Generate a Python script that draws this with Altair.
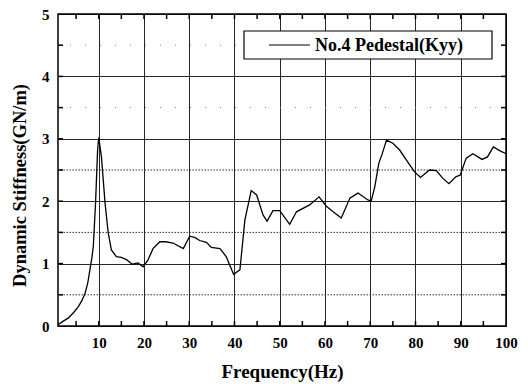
import altair as alt
import pandas as pd

# ---- data ----
freq = [1.0, 2.0, 3.3, 4.5, 5.5, 6.3, 7.0, 7.6, 8.05, 8.5, 8.8, 9.3, 9.75, 10.0,
        10.6, 11.4, 12.1, 12.8, 13.9, 15.0, 16.2, 17.4, 18.7, 19.8, 20.9, 22.0,
        23.5, 24.8, 26.4, 28.7, 30.1, 31.2, 32.3, 33.8, 34.9, 36.8, 38.2, 39.1,
        39.8, 41.2, 42.3, 43.7, 44.9, 46.3, 47.2, 48.5, 50.0, 52.2, 53.7, 56.6,
        58.7, 60.3, 61.8, 63.6, 65.5, 67.3, 69.5, 70.2, 71.0, 71.9, 72.6, 73.6,
        75.0, 76.5, 78.0, 79.8, 81.1, 83.1, 84.6, 86.0, 87.4, 88.9, 89.9, 91.2,
        92.7, 94.7, 95.9, 97.2, 98.6, 100.0]
stiff = [0.02, 0.07, 0.13, 0.22, 0.31, 0.41, 0.53, 0.70, 0.90, 1.10, 1.27, 1.97, 2.82, 3.02,
         2.71, 1.97, 1.49, 1.22, 1.11, 1.10, 1.06, 0.99, 1.01, 0.95, 1.06, 1.24,
         1.35, 1.35, 1.33, 1.24, 1.44, 1.42, 1.37, 1.34, 1.26, 1.24, 1.11, 0.95,
         0.83, 0.90, 1.70, 2.17, 2.10, 1.78, 1.68, 1.85, 1.85, 1.63, 1.83, 1.94,
         2.07, 1.92, 1.83, 1.73, 2.05, 2.13, 2.02, 2.00, 2.23, 2.61, 2.75, 2.98,
         2.93, 2.82, 2.66, 2.47, 2.38, 2.50, 2.49, 2.37, 2.28, 2.39, 2.42, 2.69,
         2.76, 2.67, 2.71, 2.87, 2.81, 2.76]
series_name = "No.4 Pedestal(Kyy)"
x_ticks = [10, 20, 30, 40, 50, 60, 70, 80, 90, 100]
y_ticks = [0, 1, 2, 3, 4, 5]
y_half = [0.5, 1.5, 2.5]
y_half_faint = [3.5, 4.5]
x_minor = [5, 10, 15, 20, 25, 30, 35, 40, 45, 50, 55, 60, 65, 70, 75, 80, 85, 90, 95]
y_minor = [0.5, 1, 1.5, 2, 2.5, 3, 3.5, 4, 4.5]

W, H = 448, 312
FONT = "Liberation Serif"

df = pd.DataFrame({"f": freq, "k": stiff})
xs = alt.Scale(domain=[1, 100], nice=False, zero=False)
ys = alt.Scale(domain=[0, 5], nice=False)

line = alt.Chart(df).mark_line(color="black", strokeWidth=1.3).encode(
    x=alt.X("f:Q", scale=xs,
            axis=alt.Axis(values=x_ticks, title="Frequency(Hz)", grid=True,
                          gridColor="black", gridWidth=1, gridOpacity=0.85,
                          domain=False, ticks=False, labelPadding=9,
                          labelFont=FONT, labelFontSize=15, labelFontWeight="bold",
                          labelColor="black", labelFlush=False, format="d",
                          titleFont=FONT, titleFontSize=19, titleFontWeight="bold",
                          titleColor="black", titleBaseline="alphabetic",
                          titleX=224, titleY=51)),
    y=alt.Y("k:Q", scale=ys,
            axis=alt.Axis(values=y_ticks, title="Dynamic Stiffness(GN/m)", grid=True,
                          gridColor="black", gridWidth=1, gridOpacity=0.85,
                          domain=False, ticks=False, labelPadding=9,
                          labelFont=FONT, labelFontSize=15, labelFontWeight="bold",
                          labelColor="black", labelFlush=False, format="d",
                          titleFont=FONT, titleFontSize=18.5, titleFontWeight="bold",
                          titleColor="black", titleBaseline="alphabetic",
                          titleAngle=270, titleX=-33, titleY=171)),
)

half = alt.Chart(pd.DataFrame({"y": y_half})).mark_rule(
    color="#333333", strokeWidth=1, strokeDash=[1.5, 1.5]).encode(
    y=alt.Y("y:Q", scale=ys))
half_faint = alt.Chart(pd.DataFrame({"y": y_half_faint})).mark_rule(
    color="#888888", strokeWidth=1, strokeDash=[1, 14]).encode(
    y=alt.Y("y:Q", scale=ys))

xm = pd.DataFrame({"x": x_minor})
tick_bot = alt.Chart(xm).mark_rule(color="black", strokeWidth=1.5).encode(
    x=alt.X("x:Q", scale=xs), y=alt.value(H), y2=alt.value(H - 5))
tick_top = alt.Chart(xm).mark_rule(color="black", strokeWidth=1.5).encode(
    x=alt.X("x:Q", scale=xs), y=alt.value(0), y2=alt.value(5))
ym = pd.DataFrame({"y": y_minor})
tick_l = alt.Chart(ym).mark_rule(color="black", strokeWidth=1.5).encode(
    y=alt.Y("y:Q", scale=ys), x=alt.value(0), x2=alt.value(5))
tick_r = alt.Chart(ym).mark_rule(color="black", strokeWidth=1.5).encode(
    y=alt.Y("y:Q", scale=ys), x=alt.value(W), x2=alt.value(W - 5))

leg = pd.DataFrame({"name": [series_name]})
leg_box = alt.Chart(leg).mark_rect(fill="white", stroke="black", strokeWidth=1.2).encode(
    x=alt.value(186), x2=alt.value(434), y=alt.value(17), y2=alt.value(45))
leg_line = alt.Chart(leg).mark_rule(color="black", strokeWidth=1).encode(
    x=alt.value(211), x2=alt.value(252), y=alt.value(31))
leg_text = alt.Chart(leg).mark_text(
    align="left", baseline="middle", font=FONT, fontSize=18, fontWeight="bold",
    color="black").encode(text="name:N", x=alt.value(257), y=alt.value(32))

chart = alt.layer(half, half_faint, line, tick_bot, tick_top, tick_l, tick_r,
                  leg_box, leg_line, leg_text).properties(
    width=W, height=H,
    autosize=alt.AutoSizeParams(type="none"),
    padding={"left": 58, "top": 14, "right": 22, "bottom": 58},
    background="white",
).configure_view(stroke="black", strokeWidth=1.5)

chart.save("out.html", embed_options={"renderer": "svg", "actions": False})
